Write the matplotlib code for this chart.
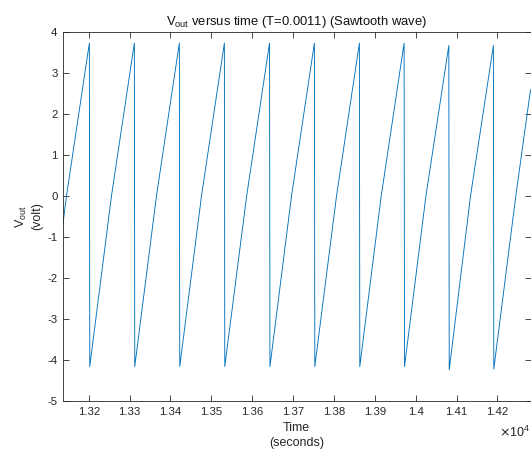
import matplotlib
matplotlib.use('Agg')
import matplotlib.pyplot as plt
from matplotlib.ticker import FuncFormatter, MultipleLocator

plt.rcParams['font.family'] = ['Liberation Sans', 'DejaVu Sans']

# readings from the reference (time in seconds, voltage in volt)
start_t, start_v = 13137, -0.67
zero_t = [13145.5, 13255.6, 13365.7, 13475.9, 13586.4, 13696.2,
          13806.3, 13915.7, 14025.1, 14134.2, 14245.0]
peak_t = [13201.5, 13311.6, 13421.7, 13531.9, 13642.4, 13752.2,
          13862.3, 13971.7, 14081.1, 14190.2]
peak_v = [3.73, 3.73, 3.73, 3.73, 3.73, 3.73, 3.73, 3.73, 3.67, 3.67]
trough_v = [-4.16, -4.16, -4.16, -4.16, -4.16, -4.16, -4.16, -4.16, -4.24, -4.22]
end_t, end_v = 14281, 2.59
drop_dt = 1.0

# build the sawtooth vertices
t = [start_t]
v = [start_v]
for i in range(len(peak_t)):
    t += [zero_t[i], peak_t[i], peak_t[i] + drop_dt]
    v += [0.0, peak_v[i], trough_v[i]]
t += [zero_t[-1], end_t]
v += [0.0, end_v]

fig = plt.figure(figsize=(5.31, 4.54), dpi=100)
ax = fig.add_axes([63 / 531, 1 - 401 / 454, 467.5 / 531, 369 / 454])

ax.plot(t, v, color='#0072BD', linewidth=0.65)

ax.set_xlim(start_t, end_t)
ax.set_ylim(-5, 4)
ax.xaxis.set_major_locator(MultipleLocator(100))
ax.yaxis.set_major_locator(MultipleLocator(1))
ax.xaxis.set_major_formatter(FuncFormatter(lambda x, p: f'{x / 1e4:g}'))
ax.yaxis.set_major_formatter(FuncFormatter(lambda y, p: f'{y:g}'))

axcol = '#262626'
ax.tick_params(direction='in', length=4, width=0.6, colors=axcol,
               labelsize=8.2, top=True, right=True, pad=4)
for s in ax.spines.values():
    s.set_color(axcol)
    s.set_linewidth(0.6)

ax.set_title('V$_{\\mathregular{out}}$ versus time (T=0.0011) (Sawtooth wave)',
             fontsize=9.4, color='#111111', pad=5)
ax.set_xlabel('Time\n(seconds)', fontsize=9, color=axcol, labelpad=4,
              linespacing=1.35)
ax.set_ylabel('V$_{\\mathregular{out}}$\n(volt)', fontsize=9, color=axcol, labelpad=3)
ax.text(1.0, -0.085, '$\\times\\mathregular{10^4}$', transform=ax.transAxes,
        ha='right', va='center', fontsize=9, color=axcol)

fig.savefig('out.png', dpi=100)
